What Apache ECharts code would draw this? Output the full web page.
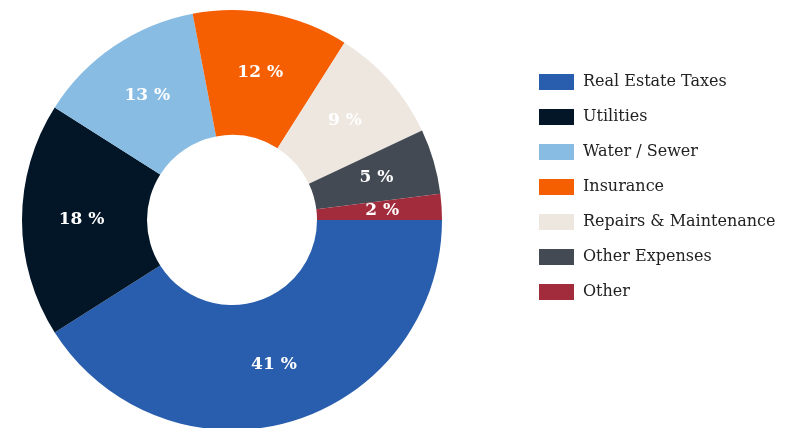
<!DOCTYPE html>
<html>
<head>
<meta charset="utf-8">
<script src="https://cdn.jsdelivr.net/npm/echarts@6/dist/echarts.min.js"></script>
<style>
  html, body { margin: 0; padding: 0; background: #fff; }
  #chart { width: 804px; height: 428px; }
</style>
</head>
<body>
<div id="chart"></div>
<script>
// Operating expense breakdown (percent of total)
const categories = [
  'Real Estate Taxes',
  'Utilities',
  'Water / Sewer',
  'Insurance',
  'Repairs & Maintenance',
  'Other Expenses',
  'Other'
];
const shares = [41, 18, 13, 12, 9, 5, 2];
const colors = ['#285EAD', '#021628', '#88BCE3', '#F65E02', '#EDE7DF', '#434A54', '#A22C3C'];

const serif = '"DejaVu Serif", "Liberation Serif", serif';

const chart = echarts.init(document.getElementById('chart'), null, { renderer: 'canvas' });

chart.setOption({
  backgroundColor: '#ffffff',
  animation: false,
  color: colors,
  legend: {
    orient: 'vertical',
    left: 539,
    top: 74,
    padding: 0,
    icon: 'rect',
    itemWidth: 35,
    itemHeight: 16,
    itemGap: 19,
    data: categories,
    textStyle: {
      fontFamily: serif,
      fontSize: 16,
      color: '#222222',
      lineHeight: 16,
      height: 16,
      padding: [0, 0, 0, 4]
    }
  },
  series: [{
    type: 'pie',
    center: [232, 220],
    radius: [85, 210],
    startAngle: 0,
    clockwise: true,
    avoidLabelOverlap: false,
    label: {
      show: true,
      position: 'inside',
      formatter: '{c} %',
      color: '#ffffff',
      fontFamily: serif,
      fontWeight: 'bold',
      fontSize: 17
    },
    labelLine: { show: false },
    emphasis: { disabled: true },
    data: categories.map((name, i) => ({ name, value: shares[i] }))
  }]
});
</script>
</body>
</html>
